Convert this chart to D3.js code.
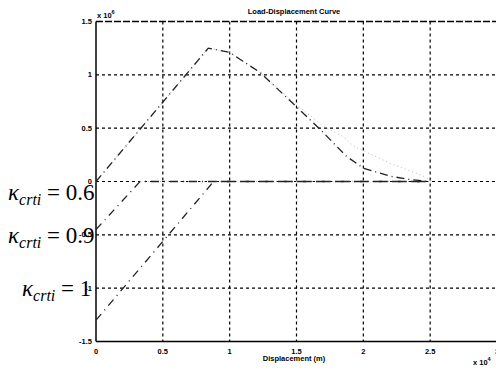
<!DOCTYPE html>
<html><head><meta charset="utf-8">
<script src="https://cdn.jsdelivr.net/npm/d3@7"></script>
<style>body{margin:0;background:#fff}svg{display:block}</style>
</head><body>
<script>
// Displacement in units of 1e-4 m, load in units of 1e6 N
const xTicks = [0, 0.5, 1, 1.5, 2, 2.5, 3];
const yTicks = [-1.5, -1, -0.5, 0, 0.5, 1, 1.5];
const xTickLabels = ["0", "0.5", "1", "1.5", "2", "2.5", "3"];
const yTickLabels = ["-1.5", "-1", "-0.5", "0", "0.5", "1", "1.5"];
const kappaLabels = ["0.6", "0.9", "1"];

const k06X = [0, 0.84, 1.0, 1.23, 1.5, 1.68, 1.87, 2.0, 2.2, 2.36, 2.5];
const k06Y = [0, 1.25, 1.21, 1.02, 0.70, 0.485, 0.24, 0.125, 0.05, 0.016, 0];
const k06bX = [0, 0.84, 1.0, 1.23, 1.5, 1.70, 1.85, 1.93, 2.2, 2.43, 2.5];
const k06bY = [0, 1.25, 1.21, 1.02, 0.72, 0.52, 0.42, 0.33, 0.17, 0.06, 0.02];
const k09X = [0, 0.33, 2.5];
const k09Y = [-0.45, 0, 0];
const k1X = [0, 0.88, 2.5];
const k1Y = [-1.3, 0, 0];

const W = 496, H = 372;
const svg = d3.select("body").append("svg").attr("width", W).attr("height", H);
const x = d3.scaleLinear().domain([0, 3]).range([96, 497]);
const y = d3.scaleLinear().domain([-1.5, 1.5]).range([341.5, 21.5]);
const font = "Liberation Sans, Arial, sans-serif";

// grid
const g = svg.append("g");
g.selectAll("line.vg").data(xTicks.filter(d => d > 0 && d < 3)).join("line")
  .attr("x1", d => x(d)).attr("x2", d => x(d)).attr("y1", y(1.5)).attr("y2", y(-1.5))
  .attr("stroke", "#000").attr("stroke-width", 1.2).attr("stroke-dasharray", "3,3");
g.selectAll("line.hg").data(yTicks.filter(d => d > -1.5 && d < 1.5)).join("line")
  .attr("y1", d => y(d)).attr("y2", d => y(d)).attr("x1", x(0)).attr("x2", x(3))
  .attr("stroke", "#000").attr("stroke-width", 1.2).attr("stroke-dasharray", "3,3");

// box
svg.append("line").attr("x1", x(0)).attr("x2", x(3)).attr("y1", y(1.5)).attr("y2", y(1.5))
  .attr("stroke", "#000").attr("stroke-width", 1.5).attr("stroke-dasharray", "7,2");
svg.append("line").attr("x1", x(0)).attr("x2", x(3)).attr("y1", y(-1.5)).attr("y2", y(-1.5))
  .attr("stroke", "#000").attr("stroke-width", 1.5);
svg.append("line").attr("x1", x(0)).attr("x2", x(0)).attr("y1", y(1.5)).attr("y2", y(-1.5))
  .attr("stroke", "#000").attr("stroke-width", 1.5);

// curves
const line = d3.line().x(d => x(d[0])).y(d => y(d[1]));
function draw(xs, ys, color, width, dash) {
  svg.append("path").datum(xs.map((v, i) => [v, ys[i]])).attr("d", line)
    .attr("fill", "none").attr("stroke", color).attr("stroke-width", width)
    .attr("stroke-dasharray", dash);
}
draw(k06bX, k06bY, "#b8b8b8", 1, "1,3");
draw([0.33, 2.5], [0, 0], "#b8b8b8", 1, "1,3");
draw(k06X, k06Y, "#222", 1.3, "8,4,1,4");
draw(k09X, k09Y, "#222", 1.3, "8,5,1,5");
draw(k1X, k1Y, "#222", 1.3, "8,5,1,5");

// tick labels
svg.selectAll("text.xt").data(xTicks).join("text")
  .attr("x", d => x(d)).attr("y", 354).attr("text-anchor", "middle")
  .attr("font-family", font).attr("font-weight", "bold").attr("font-size", 7.5)
  .text((d, i) => xTickLabels[i]);
svg.selectAll("text.yt").data(yTicks).join("text")
  .attr("x", 92).attr("y", d => y(d) + 2.5).attr("text-anchor", "end")
  .attr("font-family", font).attr("font-weight", "bold").attr("font-size", 7.5)
  .text((d, i) => yTickLabels[i]);

// exponents
const e1 = svg.append("text").attr("x", 97).attr("y", 18).attr("font-family", font)
  .attr("font-weight", "bold").attr("font-size", 7.5);
e1.append("tspan").text("x 10");
e1.append("tspan").attr("dy", -4).attr("font-size", 5.5).text("6");
const e2 = svg.append("text").attr("x", 473).attr("y", 365).attr("font-family", font)
  .attr("font-weight", "bold").attr("font-size", 7.5);
e2.append("tspan").text("x 10");
e2.append("tspan").attr("dy", -4).attr("font-size", 5.5).text("4");

// title and label
svg.append("text").attr("x", 294).attr("y", 14).attr("text-anchor", "middle")
  .attr("font-family", font).attr("font-weight", "bold").attr("font-size", 7.5)
  .text("Load-Displacement Curve");
svg.append("text").attr("x", 294).attr("y", 361).attr("text-anchor", "middle")
  .attr("font-family", font).attr("font-weight", "bold").attr("font-size", 7.5)
  .text("Displacement (m)");

// kappa annotations
const serif = "'Liberation Serif', 'Times New Roman', 'DejaVu Serif', serif";
const kx = [8, 8, 22];
const ky = [200, 243, 296];
kappaLabels.forEach((lab, i) => {
  const t = svg.append("text").attr("x", kx[i]).attr("y", ky[i])
    .attr("font-family", serif).attr("font-size", 23).attr("fill", "#000");
  t.append("tspan").attr("font-style", "italic").text("κ");
  t.append("tspan").attr("font-style", "italic").attr("font-size", 16).attr("dy", 5).text("crti");
  t.append("tspan").attr("dy", -5).text(" = " + lab);
});
</script>
</body></html>
